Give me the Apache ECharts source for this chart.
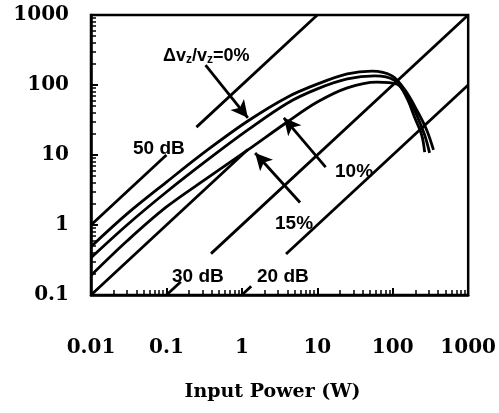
<!DOCTYPE html>
<html><head><meta charset="utf-8">
<script src="https://cdn.jsdelivr.net/npm/echarts@6/dist/echarts.min.js"></script>
<style>html,body{margin:0;padding:0;background:#fff}#c{width:499px;height:413px}</style>
</head><body><div id="c"></div>
<script>
// ---- data ----
const xTickValues = [0.01, 0.1, 1, 10, 100, 1000];
const yTickValues = [0.1, 1, 10, 100, 1000];

// saturation curves: input power (W) vs output
const power0  = [0.01, 0.03, 0.1, 0.35, 1.2, 4, 10, 25, 53, 98, 145, 208, 281, 347];
const output0 = [0.49, 1.44, 4.1, 11.8, 30.6, 67, 103, 144, 158, 135, 85, 44, 23, 11.8];
const power10  = [0.01, 0.03, 0.1, 0.35, 1.2, 4, 10, 25, 58, 104, 154, 208, 265, 308];
const output10 = [0.34, 1.0, 2.96, 8.5, 22.8, 55, 88, 122, 135, 118, 70, 37, 19.3, 10.7];
const power15  = [0.01, 0.03, 0.1, 0.35, 1.2, 4, 10, 25, 62, 114, 154, 196, 242, 265];
const output15 = [0.19, 0.59, 1.81, 4.7, 11.8, 29.6, 57, 91, 110, 103, 65, 34, 19.3, 11];

// constant-gain lines (null = gap where a label sits)
const gain50Power  = [0.01, 0.1, null, 0.25, 10];
const gain50Output = [1, 10, null, 25, 1000];
const gain40Power  = [0.01, 1.2];
const gain40Output = [0.1, 12];
const gain30Power  = [0.1, 0.155, null, 0.39, 1000];
const gain30Output = [0.1, 0.155, null, 0.39, 1000];
const gain20Power  = [1, 1.33, null, 3.85, 1000];
const gain20Output = [0.1, 0.133, null, 0.385, 100];

// annotation arrows [fromPower, fromOutput, toPower, toOutput]
const arrow0  = [0.33, 193, 1.2, 34];
const arrow10 = [12.9, 6.7, 3.6, 34];
const arrow15 = [5.9, 2.1, 1.5, 10.7];

const xName = 'Input Power (W)';
// ---------------------------------------

function segments(px, py) {
  const segs = []; let cur = [];
  px.forEach((p, i) => {
    if (p === null) { if (cur.length) segs.push(cur); cur = []; }
    else cur.push([p, py[i]]);
  });
  if (cur.length) segs.push(cur);
  return segs;
}
function zip(a, b) { return a.map((v, i) => [v, b[i]]); }

const lineStyle = { color: '#000', width: 2.8 };
const series = [];
[[power0, output0], [power10, output10], [power15, output15]].forEach(([p, o]) => {
  series.push({ type: 'line', data: zip(p, o), symbol: 'none', smooth: 0.35,
    lineStyle: lineStyle, silent: true });
});
[[gain50Power, gain50Output], [gain40Power, gain40Output], [gain30Power, gain30Output], [gain20Power, gain20Output]]
  .forEach(([p, o]) => segments(p, o).forEach(seg => {
    series.push({ type: 'line', data: seg, symbol: 'none', lineStyle: lineStyle, silent: true });
  }));
series.push({
  type: 'line', data: [], symbol: 'none',
  markLine: {
    silent: true, symbol: ['none', 'arrow'], symbolSize: [13, 17],
    lineStyle: { color: '#000', width: 2.8, type: 'solid' }, label: { show: false },
    data: [arrow0, arrow10, arrow15].map(a => [{ coord: [a[0], a[1]] }, { coord: [a[2], a[3]] }])
  }
});

const fmt = v => String(+(+v).toPrecision(6));
const sans = { fontFamily: 'Liberation Sans', fontWeight: 'bold', fill: '#000' };

const chart = echarts.init(document.getElementById('c'), null, { renderer: 'canvas' });
chart.setOption({
  animation: false,
  backgroundColor: '#fff',
  grid: { left: 91, top: 15, right: 27, bottom: 118, show: true, borderColor: '#000', borderWidth: 2.5 },
  xAxis: {
    type: 'log', logBase: 10, min: xTickValues[0], max: xTickValues[xTickValues.length - 1],
    axisLine: { lineStyle: { color: '#000', width: 2.5 } },
    axisTick: { inside: true, length: 7, lineStyle: { color: '#000', width: 2 } },
    minorTick: { show: true, splitNumber: 9, length: 5, lineStyle: { color: '#000', width: 1.5 } },
    splitLine: { show: false },
    axisLabel: { formatter: fmt, color: '#000', fontFamily: 'DejaVu Serif', fontWeight: 'bold', fontSize: 20, margin: 43 },
    name: xName, nameLocation: 'middle', nameGap: 88,
    nameTextStyle: { color: '#000', fontFamily: 'DejaVu Serif', fontWeight: 'bold', fontSize: 19, padding: [0, 14, 0, 0] }
  },
  yAxis: {
    type: 'log', logBase: 10, min: yTickValues[0], max: yTickValues[yTickValues.length - 1],
    axisLine: { lineStyle: { color: '#000', width: 2.5 } },
    axisTick: { inside: true, length: 7, lineStyle: { color: '#000', width: 2 } },
    minorTick: { show: true, splitNumber: 9, length: 5, lineStyle: { color: '#000', width: 1.5 } },
    splitLine: { show: false },
    axisLabel: { formatter: fmt, color: '#000', fontFamily: 'DejaVu Serif', fontWeight: 'bold', fontSize: 20, margin: 22, padding: [14, 0, 0, 0] }
  },
  series: series,
  graphic: [
    { type: 'text', left: 163, top: 47, style: Object.assign({
        text: 'Δv{s|z}/v{s|z}=0%', fontSize: 18,
        rich: { s: { fontSize: 12, fontFamily: 'Liberation Sans', fontWeight: 'bold', padding: [7, 0, 0, 0] } } }, sans) },
    { type: 'text', left: 133, top: 139, style: Object.assign({ text: '50 dB', fontSize: 19 }, sans) },
    { type: 'text', left: 172, top: 267, style: Object.assign({ text: '30 dB', fontSize: 19 }, sans) },
    { type: 'text', left: 257, top: 267, style: Object.assign({ text: '20 dB', fontSize: 19 }, sans) },
    { type: 'text', left: 335, top: 162, style: Object.assign({ text: '10%', fontSize: 19 }, sans) },
    { type: 'text', left: 275, top: 214, style: Object.assign({ text: '15%', fontSize: 19 }, sans) }
  ]
});
</script>
</body></html>
